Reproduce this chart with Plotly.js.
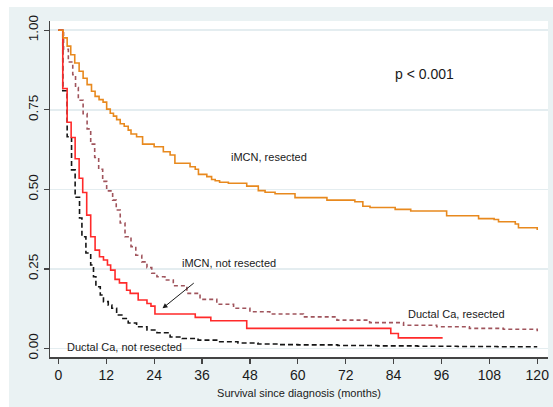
<!DOCTYPE html>
<html>
<head>
<meta charset="utf-8">
<script src="https://cdn.plot.ly/plotly-3.0.1.min.js"></script>
<style>
  html, body { margin: 0; padding: 0; background: #ffffff; width: 553px; height: 407px; overflow: hidden; }
  #chart { position: absolute; left: 9px; top: 7px; width: 544px; height: 400px; }
</style>
</head>
<body>
<div id="chart"></div>
<script>
// Kaplan-Meier estimates
const xTickVals = [0, 12, 24, 36, 48, 60, 72, 84, 96, 108, 120];
const yTickVals = [0, 0.25, 0.5, 0.75, 1];
const yTickText = ["0.00", "0.25", "0.50", "0.75", "1.00"];

// iMCN, resected (orange, solid)
const imcnResTime = [0, 1.2, 2.2, 3.1, 4.1, 5.2, 6.2, 7.2, 8.3, 9.2, 10.2, 11.2, 12.1, 13.0, 13.8, 14.6, 15.5, 16.5, 17.5, 18.2, 19.6, 21.1, 24.0, 26.3, 28.0, 29.2, 33.0, 34.3, 35.1, 37.2, 38.4, 39.3, 40.4, 42.6, 47.2, 50.1, 51.8, 54.3, 59.3, 67.3, 74.3, 76.3, 78.1, 84.4, 88.3, 97.3, 105.3, 109.2, 110.3, 114.5, 115.3, 120];
const imcnResSurv = [1, 0.976, 0.95, 0.923, 0.897, 0.871, 0.849, 0.829, 0.808, 0.792, 0.782, 0.774, 0.752, 0.739, 0.73, 0.719, 0.706, 0.698, 0.686, 0.674, 0.665, 0.642, 0.634, 0.618, 0.608, 0.582, 0.571, 0.563, 0.547, 0.54, 0.531, 0.527, 0.522, 0.519, 0.51, 0.496, 0.491, 0.486, 0.474, 0.466, 0.461, 0.447, 0.443, 0.437, 0.432, 0.417, 0.408, 0.405, 0.398, 0.391, 0.379, 0.372];

// iMCN, not resected (red, solid)
const imcnNotTime = [0, 1.1, 2.2, 3.2, 4.2, 5.2, 6.1, 7.1, 8.1, 9.2, 10.3, 11.3, 12.3, 13.1, 14.2, 15.3, 17.1, 18.0, 20.0, 22.2, 23.2, 24.2, 34.3, 38.2, 47.2, 83.3, 85.2, 96.3];
const imcnNotSurv = [1, 0.817, 0.711, 0.663, 0.596, 0.535, 0.49, 0.419, 0.351, 0.309, 0.288, 0.278, 0.262, 0.246, 0.217, 0.206, 0.183, 0.173, 0.152, 0.141, 0.133, 0.108, 0.0975, 0.087, 0.063, 0.047, 0.033, 0.033];

// Ductal Ca, resected (brown, dashed)
const ductResTime = [0, 1.3, 2.5, 3.6, 4.3, 5.0, 6.2, 7.2, 8.1, 9.1, 10.1, 11.1, 12.1, 13.6, 14.5, 15.5, 16.7, 18.2, 19.4, 20.9, 22.2, 23.4, 24.7, 26.7, 28.8, 32.2, 35.5, 39.7, 43.9, 48, 53, 61.4, 69.8, 78, 86.5, 94.8, 103, 111.5, 120];
const ductResSurv = [1, 0.94, 0.9, 0.86, 0.82, 0.78, 0.738, 0.69, 0.642, 0.6, 0.563, 0.525, 0.495, 0.466, 0.435, 0.394, 0.351, 0.32, 0.293, 0.272, 0.254, 0.236, 0.225, 0.215, 0.197, 0.173, 0.154, 0.139, 0.126, 0.115, 0.108, 0.099, 0.089, 0.081, 0.073, 0.068, 0.063, 0.06, 0.054];

// Ductal Ca, not resected (black, dashed)
const ductNotTime = [0, 1.1, 2.2, 3.3, 4.2, 5.3, 5.9, 6.9, 8.1, 8.8, 9.4, 10.5, 11.3, 12.5, 13.4, 14.6, 15.9, 17.5, 19.6, 22.2, 24.7, 28, 31, 35, 40, 45, 50, 55, 60, 70, 80, 90, 100, 110, 120];
const ductNotSurv = [1, 0.81, 0.665, 0.561, 0.475, 0.41, 0.351, 0.3, 0.262, 0.225, 0.194, 0.168, 0.147, 0.136, 0.126, 0.105, 0.094, 0.08, 0.068, 0.058, 0.049, 0.036, 0.031, 0.026, 0.021, 0.017, 0.014, 0.012, 0.011, 0.009, 0.008, 0.007, 0.006, 0.005, 0.005];

const FONT = "Liberation Sans, Arial, Helvetica, sans-serif";

const traces = [
  { x: ductNotTime, y: ductNotSurv, name: "Ductal Ca, not resected", type: "scatter", mode: "lines",
    line: { shape: "hv", color: "#151515", width: 1.6, dash: "5px,3px" } },
  { x: ductResTime, y: ductResSurv, name: "Ductal Ca, resected", type: "scatter", mode: "lines",
    line: { shape: "hv", color: "#a0545c", width: 1.6, dash: "4px,3px" } },
  { x: imcnNotTime, y: imcnNotSurv, name: "iMCN, not resected", type: "scatter", mode: "lines",
    line: { shape: "hv", color: "#ff2a2a", width: 1.6 } },
  { x: imcnResTime, y: imcnResSurv, name: "iMCN, resected", type: "scatter", mode: "lines",
    line: { shape: "hv", color: "#e8891e", width: 1.6 } }
];

const txt = { family: FONT, size: 11, color: "#1a1a1a" };

const layout = {
  width: 544, height: 400,
  margin: { l: 41, r: 5, t: 14, b: 50 },
  paper_bgcolor: "#eaf2f3",
  plot_bgcolor: "#ffffff",
  showlegend: false,
  font: { family: FONT, color: "#1a1a1a" },
  xaxis: {
    range: [-2.1, 122.7],
    tickvals: xTickVals,
    ticks: "outside", ticklen: 5, tickwidth: 1.3, tickcolor: "#444",
    ticklabelstandoff: 0,
    showline: true, linecolor: "#444", linewidth: 1.5,
    showgrid: false, zeroline: false,
    automargin: false,
    tickfont: { family: FONT, size: 14, color: "#1a1a1a" },
    title: { text: "Survival since diagnosis (months)", font: { family: FONT, size: 11, color: "#1a1a1a" }, standoff: 7 }
  },
  yaxis: {
    range: [-0.027, 1.029],
    tickvals: yTickVals, ticktext: yTickText,
    tickangle: -90,
    ticks: "outside", ticklen: 5, tickwidth: 1.3, tickcolor: "#444",
    showline: true, linecolor: "#444", linewidth: 1.5,
    showgrid: true, gridcolor: "#e4edf0", gridwidth: 1.5,
    zeroline: false,
    automargin: false,
    tickfont: { family: FONT, size: 13.5, color: "#1a1a1a" }
  },
  annotations: [
    { x: 91.8, y: 0.8626, xref: "x", yref: "y", text: "p < 0.001", showarrow: false,
      font: { family: FONT, size: 14, color: "#1a1a1a" } },
    { x: 52.9, y: 0.6025, xref: "x", yref: "y", text: "iMCN, resected", showarrow: false, font: txt },
    { x: 42.7, y: 0.267, xref: "x", yref: "y", text: "iMCN, not resected", showarrow: false, font: txt },
    { x: 99.7, y: 0.108, xref: "x", yref: "y", text: "Ductal Ca, resected", showarrow: false, font: txt },
    { x: 16.5, y: 0.005, xref: "x", yref: "y", text: "Ductal Ca, not resected", showarrow: false, font: txt },
    { x: 26.1, y: 0.126, xref: "x", yref: "y", ax: 34.3, ay: 0.209, axref: "x", ayref: "y",
      text: "", showarrow: true, arrowhead: 2, arrowsize: 1, arrowwidth: 1, arrowcolor: "#1a1a1a" }
  ]
};

Plotly.newPlot("chart", traces, layout, { displayModeBar: false, staticPlot: true });
</script>
</body>
</html>
